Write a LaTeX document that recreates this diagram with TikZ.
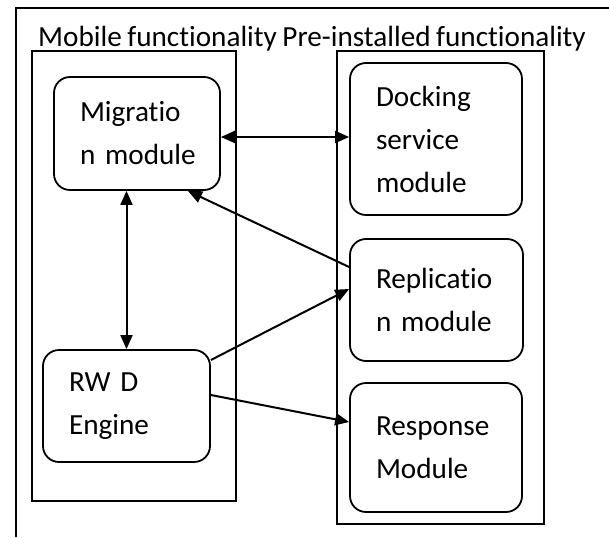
\documentclass[tikz,border=0pt]{standalone}
\usepackage{fontspec}
\setmainfont{Carlito}[Ligatures=NoCommon, WordSpace=0.85]
\usetikzlibrary{arrows.meta}
\begin{document}
\begin{tikzpicture}[x=1pt,y=-1pt,
  every node/.style={font=\fontsize{29.2}{43}\selectfont},
  frame/.style={line width=1.9pt},
  modbox/.style={draw, line width=1.8pt, rounded corners=16pt, align=left, inner xsep=26pt, inner ysep=0pt},
  arr/.style={line width=2pt, -{Triangle[length=14pt,width=12pt]}},
  darr/.style={line width=2pt, {Triangle[length=14pt,width=12pt]}-{Triangle[length=14pt,width=12pt]}}]
\useasboundingbox (0,0) rectangle (609,537);
% outer open frame
\draw[frame] (16,537) -- (16,8) -- (609,8);
\node[anchor=base west, inner sep=0pt] (title) at (38,47) {Mobile functionality Pre-installed functionality};
% group boxes
\draw[frame] (32,51) rectangle (236,501);
\draw[frame] (337,51) rectangle (544,524);
% modules
\node[modbox, minimum width=166pt, minimum height=113pt, text width=114pt] (mig) at (137,133.5) {\mbox{Migratio}\\\mbox{n module}};
\node[modbox, minimum width=172pt, minimum height=152pt, text width=120pt] (dock) at (436,139) {\mbox{Docking}\\\mbox{service}\\\mbox{module}};
\node[modbox, minimum width=173pt, minimum height=122pt, text width=121pt] (rep) at (436.5,300) {\mbox{Replicatio}\\\mbox{n module}};
\node[modbox, minimum width=172pt, minimum height=129pt, text width=120pt] (resp) at (436,447.5) {\mbox{Response}\\\mbox{Module}};
\node[modbox, minimum width=167pt, minimum height=112pt, text width=115pt] (rwd) at (126.5,406) {\mbox{RW D}\\\mbox{Engine}};
% connectors
\draw[darr] (mig.east |- 0,137) -- (dock.west |- 0,137);
\draw[darr] (rwd.north |- mig.south) -- (rwd.north);
\draw[arr] (rep.west |- 0,267) -- (188,191);
\draw[arr] (rwd.east |- 0,360) -- (rep.west |- 0,289);
\draw[arr] (rwd.east |- 0,395) -- (resp.west |- 0,422);
\end{tikzpicture}
\end{document}
